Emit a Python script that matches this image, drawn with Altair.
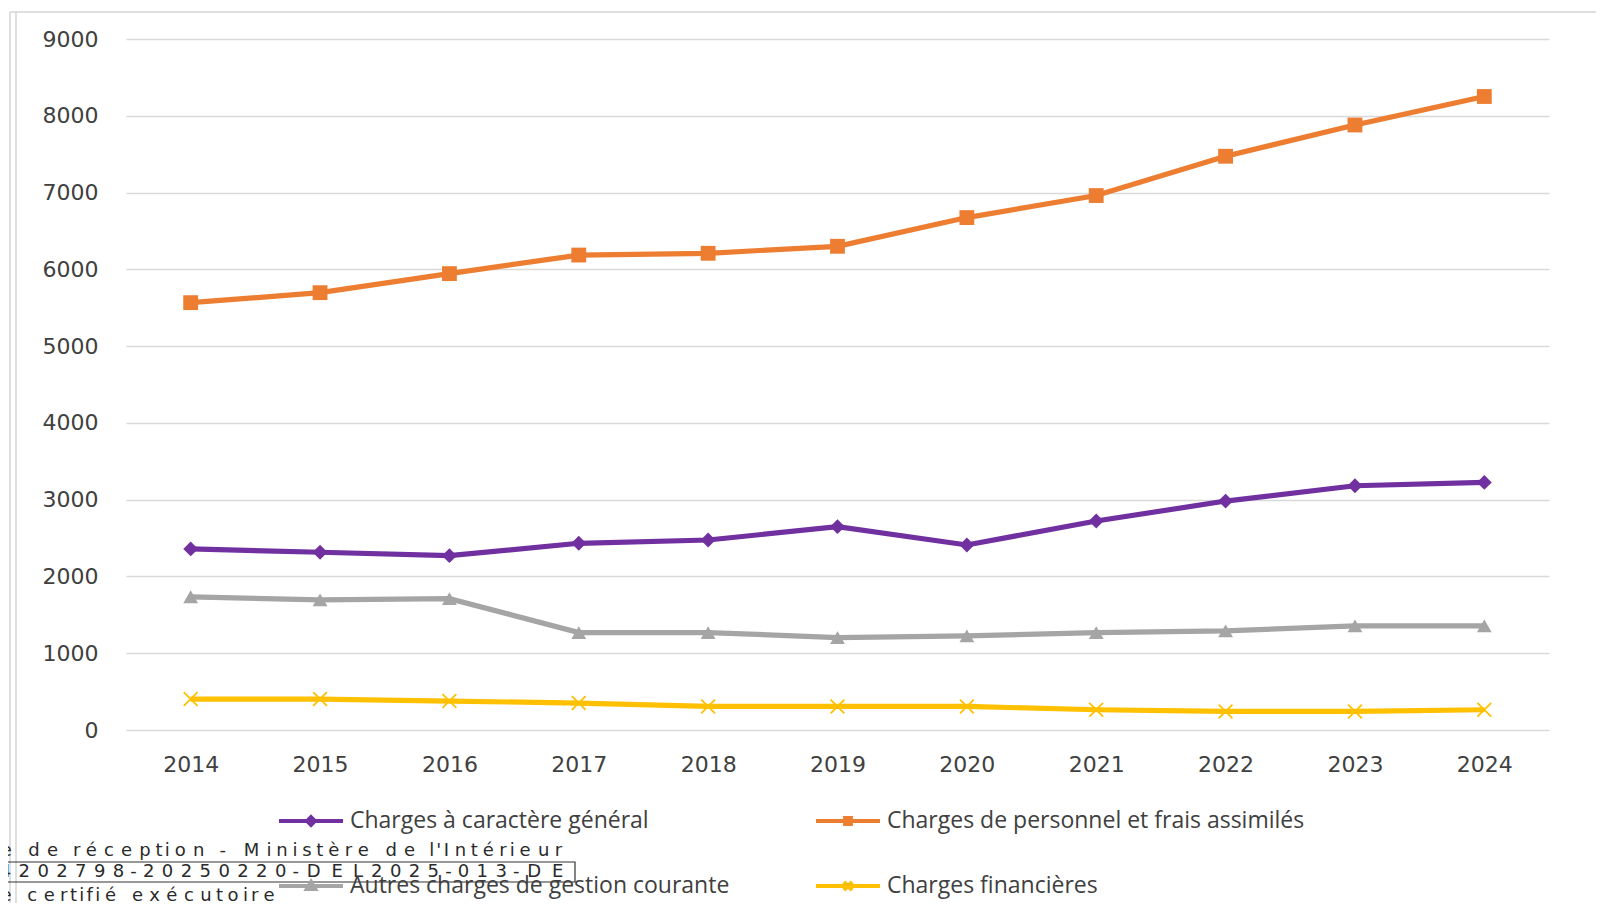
import altair as alt
import pandas as pd

years = ["2014", "2015", "2016", "2017", "2018", "2019", "2020", "2021", "2022", "2023", "2024"]
series_names = [
    "Charges à caractère général",
    "Charges de personnel et frais assimilés",
    "Autres charges de gestion courante",
    "Charges financières",
]
general = [2358, 2315, 2271, 2432, 2475, 2648, 2410, 2722, 2982, 3181, 3225]
personnel = [5566, 5696, 5944, 6186, 6209, 6300, 6674, 6961, 7473, 7880, 8251]
autres = [1735, 1694, 1711, 1269, 1269, 1204, 1226, 1269, 1291, 1356, 1356]
financieres = [403, 403, 377, 351, 307, 307, 307, 264, 242, 242, 264]
colors = ["#7030A0", "#ED7D31", "#A5A5A5", "#FFC000"]
y_ticks = [0, 1000, 2000, 3000, 4000, 5000, 6000, 7000, 8000, 9000]

stamp_lines = [
    "e de réception - Ministère de l'Intérieur",
    "4202798-20250220-DEL2025-013-DE",
    "e certifié exécutoire",
]

# ---------------- layout (page pixels) ----------------
PLOT_X0, PLOT_Y0 = 126, 39
W, H = 1423, 691
PAD = {"left": PLOT_X0 - 8, "top": PLOT_Y0 - 8, "right": 1588 - (PLOT_X0 - 8) - W, "bottom": 895 - (PLOT_Y0 - 8) - H}

markers = {
    series_names[0]: "diamond",
    series_names[1]: "square",
    series_names[2]: "triangle-up",
    series_names[3]: "M-1,-1L1,1M-1,1L1,-1",
}
legend_paths = [
    "M-1,0H1M0,-0.12L0.12,0L0,0.12L-0.12,0Z",
    "M-1,0H1M-0.09,-0.09H0.09V0.09H-0.09Z",
    "M-1,0H1M0,-0.13L0.13,0.09L-0.13,0.09Z",
    "M-1,0H1M-0.13,-0.13L0.13,0.13M-0.13,0.13L0.13,-0.13",
]

rows = []
for name, vals in zip(series_names, [general, personnel, autres, financieres]):
    for yr, v in zip(years, vals):
        rows.append({"year": yr, "series": name, "value": v, "marker": markers[name]})
df = pd.DataFrame(rows)

color_scale = alt.Scale(domain=series_names, range=colors)
x_enc = alt.X(
    "year:O",
    sort=years,
    title=None,
    axis=alt.Axis(
        labelAngle=0,
        domain=False,
        ticks=False,
        grid=False,
        labelFont="DejaVu Sans",
        labelFontSize=22,
        labelColor="#404040",
        labelPadding=34,
        labelBaseline="middle",
    ),
)
y_enc = alt.Y(
    "value:Q",
    title=None,
    scale=alt.Scale(domain=[0, 9000], nice=False),
    axis=alt.Axis(
        values=y_ticks,
        format="d",
        domain=False,
        ticks=False,
        grid=True,
        gridColor="#d9d9d9",
        gridWidth=1.5,
        labelFont="DejaVu Sans",
        labelFontSize=22,
        labelColor="#404040",
        labelPadding=28,
    ),
)

leg_props = dict(
    title=None,
    orient="none",
    direction="horizontal",
    legendX=151,
    legendY=748,
    columns=2,
    columnPadding=78,
    rowPadding=19,
    labelFont="Open Sans",
    labelFontSize=23,
    labelColor="#404040",
    labelLimit=1000,
    labelOffset=5,
    symbolSize=4096,
    symbolStrokeWidth=4,
    symbolOpacity=1,
)

base = alt.Chart(df)
legend_layer = base.transform_filter("false").mark_point(filled=False, strokeWidth=4, opacity=1).encode(
    color=alt.Color("series:N", scale=color_scale, legend=alt.Legend(**leg_props)),
    shape=alt.Shape("series:N", scale=alt.Scale(domain=series_names, range=legend_paths),
                    legend=alt.Legend(**leg_props)),
)
lines = base.mark_line(strokeWidth=5.2).encode(
    x=x_enc, y=y_enc, color=alt.Color("series:N", scale=color_scale), detail="series:N"
)
filled_pts = base.transform_filter(alt.datum.series != series_names[3]).mark_point(
    filled=True, opacity=1, size=220
).encode(
    x=x_enc, y=y_enc,
    color=alt.Color("series:N", scale=color_scale),
    shape=alt.Shape("marker:N", scale=None),
)
x_pts = base.transform_filter(alt.datum.series == series_names[3]).mark_point(
    filled=False, opacity=1, size=190, strokeWidth=1.8
).encode(
    x=x_enc, y=y_enc,
    color=alt.Color("series:N", scale=color_scale),
    shape=alt.Shape("marker:N", scale=None),
)

# ---------------- decorations: frame and stamp ----------------
def px(x):
    return x - PLOT_X0


def py(y):
    return y - PLOT_Y0


frame_df = pd.DataFrame([
    {"x": px(10), "x2": px(1604), "y": py(12), "y2": py(12)},
    {"x": px(10), "x2": px(10), "y": py(12), "y2": py(911)},
    {"x": px(16), "x2": px(16), "y": py(12), "y2": py(911)},
])
frame = alt.Chart(frame_df).mark_rule(color="#d4d4d4", strokeWidth=1.5).encode(
    x=alt.X("x:Q", scale=None, axis=None), x2="x2:Q",
    y=alt.Y("y:Q", scale=None, axis=None), y2="y2:Q",
)

arial_w = {" ": 278, "-": 333, "'": 191, "D": 722, "E": 667, "L": 556, "M": 833, "I": 278,
           "c": 500, "d": 556, "e": 556, "é": 556, "è": 556, "f": 278, "i": 222, "l": 222,
           "n": 556, "o": 556, "p": 556, "r": 333, "s": 500, "t": 278, "u": 556, "x": 500}
line_geo = [(-3, 564, 851), (-4, 569, 872), (-3, 278, 896)]
chars = []
for text, (x0, x1, yc) in zip(stamp_lines, line_geo):
    widths = [arial_w.get(c, 556) for c in text]
    total = sum(widths)
    cum = 0
    for c, w in zip(text, widths):
        left = x0 + (x1 - x0) * cum / total
        chars.append({"ch": c, "x": px(left + (x1 - x0) * w / total / 2), "y": py(yc)})
        cum += w
chars_df = pd.DataFrame(chars)
stamp_text = alt.Chart(chars_df).mark_text(
    font="DejaVu Sans", fontSize=18, color="#2a2a2a", align="center", baseline="middle"
).encode(
    x=alt.X("x:Q", scale=None, axis=None),
    y=alt.Y("y:Q", scale=None, axis=None),
    text="ch:N",
)
box_df = pd.DataFrame([{"x": px(-2), "x2": px(575), "y": py(862), "y2": py(882)}])
stamp_box = alt.Chart(box_df).mark_rect(fill="transparent", stroke="#333333", strokeWidth=1.2).encode(
    x=alt.X("x:Q", scale=None, axis=None), x2="x2:Q",
    y=alt.Y("y:Q", scale=None, axis=None), y2="y2:Q",
)
uline_df = pd.DataFrame([{"x": px(0), "x2": px(435), "y": py(909), "y2": py(909)}])
stamp_line = alt.Chart(uline_df).mark_rule(color="#333333", strokeWidth=1.2).encode(
    x=alt.X("x:Q", scale=None, axis=None), x2="x2:Q",
    y=alt.Y("y:Q", scale=None, axis=None), y2="y2:Q",
)

chart = alt.layer(
    legend_layer, frame, lines, filled_pts, x_pts, stamp_box, stamp_line, stamp_text
).properties(
    width=W,
    height=H,
    padding=PAD,
    autosize=alt.AutoSizeParams(type="none"),
    background="white",
).configure_view(stroke="transparent")

chart.save("out.html", embed_options={"renderer": "svg", "actions": False})
